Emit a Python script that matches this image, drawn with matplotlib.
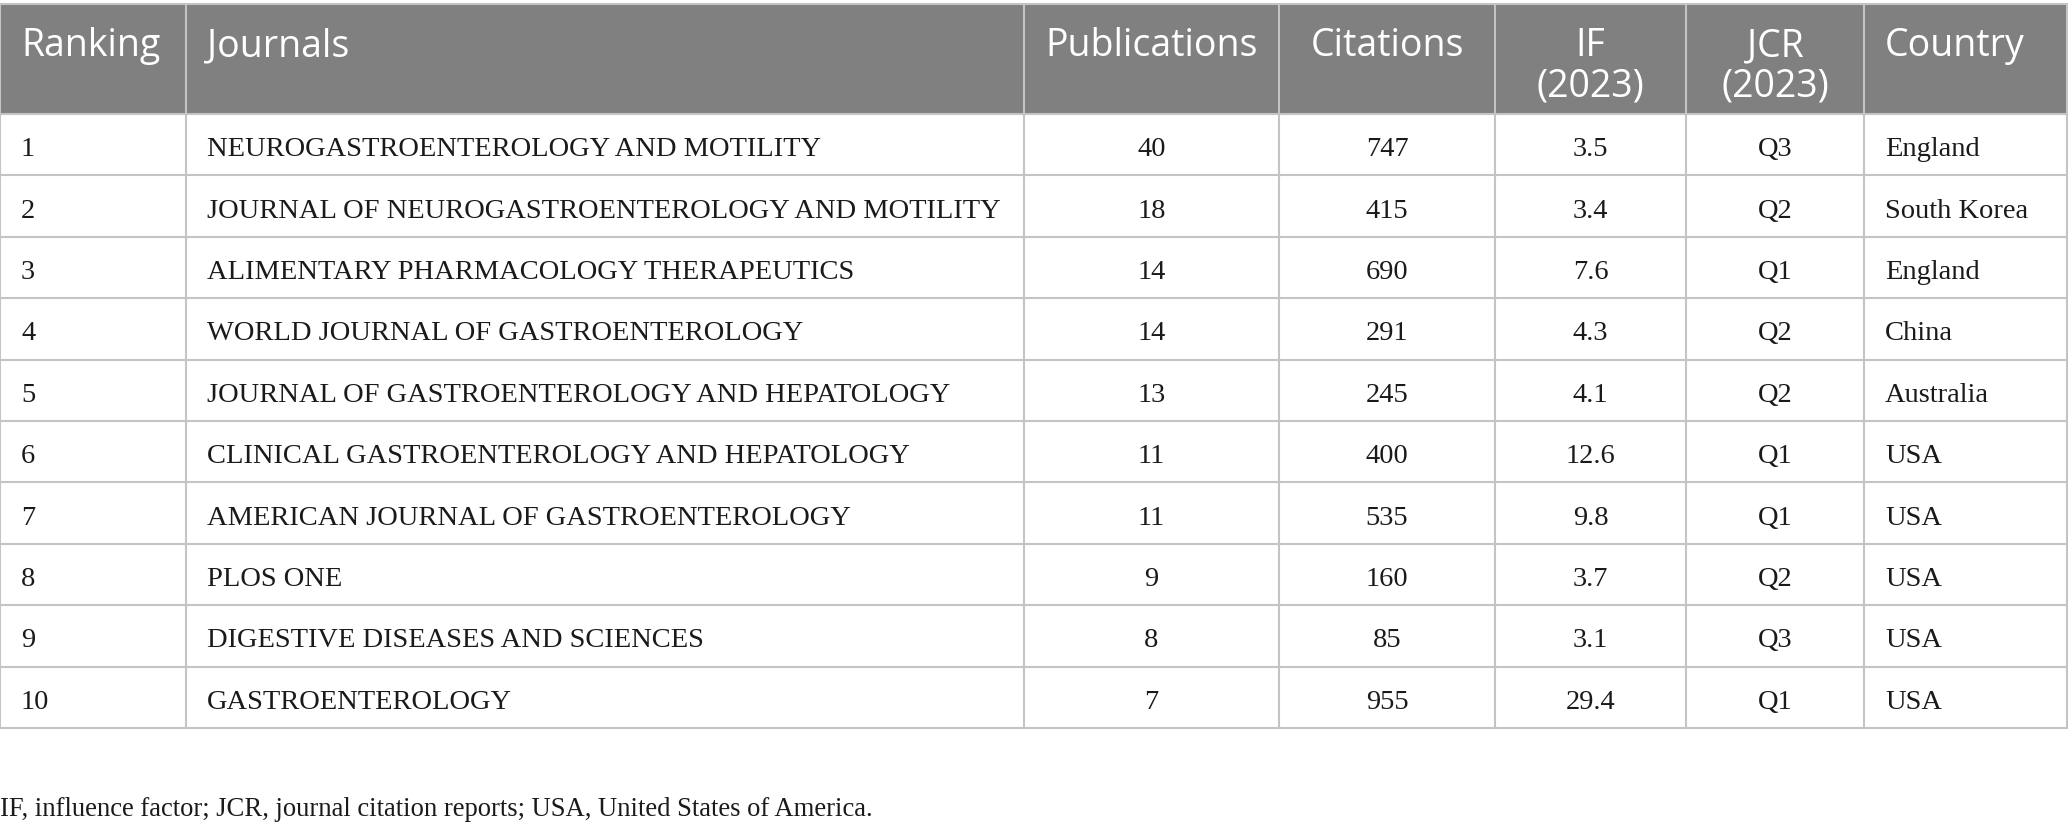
import matplotlib
matplotlib.use("Agg")
import matplotlib.pyplot as plt
from matplotlib.patches import Rectangle

# table content
headers = ["Ranking", "Journals", "Publications", "Citations", "IF\n(2023)", "JCR\n(2023)", "Country"]
ranking = [1, 2, 3, 4, 5, 6, 7, 8, 9, 10]
journals = [
    "NEUROGASTROENTEROLOGY AND MOTILITY",
    "JOURNAL OF NEUROGASTROENTEROLOGY AND MOTILITY",
    "ALIMENTARY PHARMACOLOGY THERAPEUTICS",
    "WORLD JOURNAL OF GASTROENTEROLOGY",
    "JOURNAL OF GASTROENTEROLOGY AND HEPATOLOGY",
    "CLINICAL GASTROENTEROLOGY AND HEPATOLOGY",
    "AMERICAN JOURNAL OF GASTROENTEROLOGY",
    "PLOS ONE",
    "DIGESTIVE DISEASES AND SCIENCES",
    "GASTROENTEROLOGY",
]
publications = [40, 18, 14, 14, 13, 11, 11, 9, 8, 7]
citations = [747, 415, 690, 291, 245, 400, 535, 160, 85, 955]
impact = ["3.5", "3.4", "7.6", "4.3", "4.1", "12.6", "9.8", "3.7", "3.1", "29.4"]
jcr = ["Q3", "Q2", "Q1", "Q2", "Q2", "Q1", "Q1", "Q2", "Q3", "Q1"]
country = ["England", "South Korea", "England", "China", "Australia",
           "USA", "USA", "USA", "USA", "USA"]
footnote = "IF, influence factor; JCR, journal citation reports; USA, United States of America."

columns = [ranking, journals, publications, citations, impact, jcr, country]
aligns = ["left", "left", "center", "center", "center", "center", "left"]

# layout in pixels
W, H = 2068, 830
col_edges = [0, 186, 1024, 1279, 1495, 1686, 1864, 2067]
top, head_bottom, row_h = 4, 114, 61.4
pad = 21

head_color = "#808080"
line_color = "#c4c4c4"
body_font = "Liberation Serif"
head_font = "Open Sans"

fig = plt.figure(figsize=(W / 100, H / 100), dpi=100)
ax = fig.add_axes([0, 0, 1, 1])
ax.set_xlim(0, W)
ax.set_ylim(H, 0)
ax.axis("off")

n_rows = len(ranking)
row_edges = [head_bottom + i * row_h for i in range(n_rows + 1)]

ax.add_patch(Rectangle((0, top), W, head_bottom - top, color=head_color, lw=0))

ax.hlines([top] + row_edges, 0, W, colors=line_color, lw=1.5)
ax.vlines(col_edges, top, row_edges[-1], colors=line_color, lw=1.5)


def x_for(j, align):
    if align == "left":
        return col_edges[j] + pad
    return (col_edges[j] + col_edges[j + 1]) / 2


for j, h in enumerate(headers):
    ax.text(x_for(j, aligns[j]), top + 23, h, ha=aligns[j], va="top",
            color="white", fontsize=27, family=head_font, linespacing=1.1)

for j, col in enumerate(columns):
    for i, val in enumerate(col):
        yc = (row_edges[i] + row_edges[i + 1]) / 2
        ax.text(x_for(j, aligns[j]), yc + 5, str(val), ha=aligns[j], va="center",
                color="#1a1a1a", fontsize=20.5, family=body_font)

ax.text(0, 809, footnote, ha="left", va="center", color="#1a1a1a",
        fontsize=19.2, family=body_font)

fig.savefig("out.png", dpi=100)
